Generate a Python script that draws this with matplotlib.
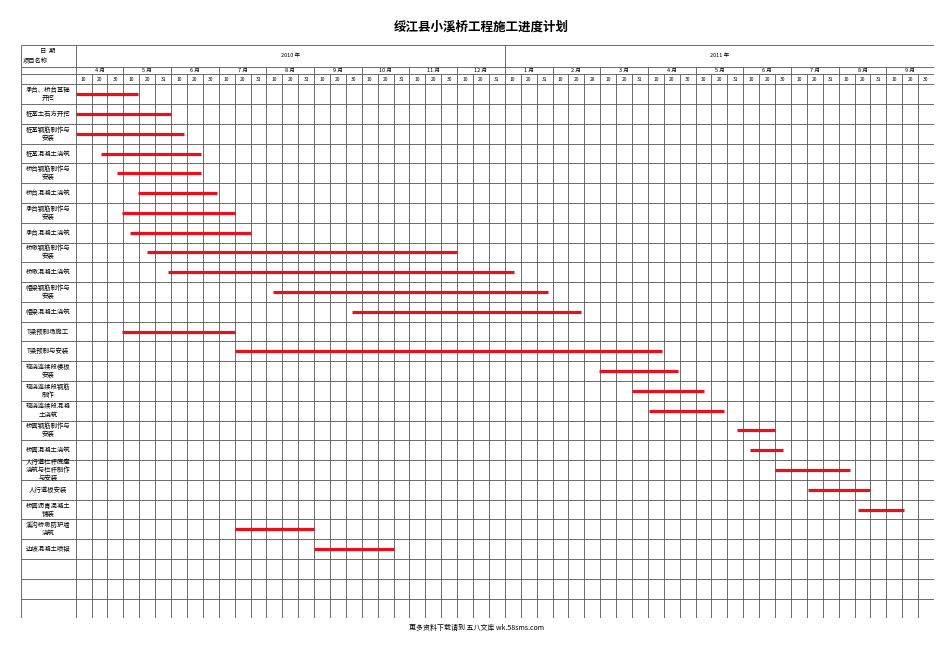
import matplotlib
matplotlib.use("Agg")
import matplotlib.pyplot as plt

plt.rcParams['font.family'] = ['Noto Sans CJK SC', 'DejaVu Sans']

# --- Data ---
title = "绥江县小溪桥工程施工进度计划"
footer = "更多资料下载请到 五八文库 wk.58sms.com"

years = ["2010 年", "2011 年"]
months = ["4 月", "5 月", "6 月", "7 月", "8 月", "9 月", "10 月", "11 月", "12 月",
          "1 月", "2 月", "3 月", "4 月", "5 月", "6 月", "7 月", "8 月", "9 月"]
month_ends = [30, 31, 30, 31, 31, 30, 31, 30, 31, 31, 28, 31, 30, 31, 30, 31, 31, 30]

tasks = [
    "承台、桥台基础\n开挖", "桩基土石方开挖", "桩基钢筋制作与\n安装", "桩基混凝土浇筑",
    "桥台钢筋制作与\n安装", "桥台混凝土浇筑", "承台钢筋制作与\n安装", "承台混凝土浇筑",
    "桥墩钢筋制作与\n安装", "桥墩混凝土浇筑", "帽梁钢筋制作与\n安装", "帽梁混凝土浇筑",
    "T梁预制场施工", "T梁预制与安装", "现浇连续段模板\n安装", "现浇连续段钢筋\n制作",
    "现浇连续段混凝\n土浇筑", "桥面钢筋制作与\n安装", "桥面混凝土浇筑",
    "人行道栏杆底座\n浇筑与栏杆制作\n与安装", "人行道板安装", "桥面沥青混凝土\n铺装",
    "溪沟桥墩防护墙\n浇筑", "边坡混凝土喷锚",
]
# start / end in ten-day periods counted from 1 April 2010
starts = [0.0, 0.0, 0.0, 1.6, 2.6, 3.9, 2.9, 3.4, 4.5, 5.8, 12.4, 17.4,
          2.9, 10.0, 32.9, 35.0, 36.1, 41.6, 42.4, 44.0, 46.1, 49.2, 10.0, 15.0]
ends = [3.9, 6.0, 6.8, 7.9, 7.9, 8.9, 10.0, 11.0, 24.0, 27.6, 29.7, 31.8,
        10.0, 36.9, 37.9, 39.5, 40.8, 44.0, 44.5, 48.7, 50.0, 52.1, 15.0, 20.0]
n_rows = 27  # 24 tasks + 3 empty rows

# --- Layout ---
W, H = 950, 672
fig = plt.figure(figsize=(W / 100, H / 100), dpi=100)
left_px, right_px, top_px, bot_px = 20.5, 934, 45, 618.3
ax = fig.add_axes([left_px / W, 1 - bot_px / H, (right_px - left_px) / W, (bot_px - top_px) / H])

n_cols = 3 * len(months)
label_w = 3.47
day_h, month_h, year_h = 0.52, 0.37, 1.1
y_day = -day_h
y_month = y_day - month_h
y_top = y_month - year_h
ax.set_xlim(-label_w, n_cols)
ax.set_ylim(n_rows, y_top)
ax.axis('off')

lc, lw = '#555555', 0.6

# horizontal lines
ax.hlines([y_top, y_month, y_day] + list(range(n_rows + 1)), -label_w, n_cols, color=lc, lw=lw)
# outer / label column
ax.vlines([-label_w, 0, n_cols], y_top, n_rows, color=lc, lw=lw)
# year divider
ax.vlines(len(months) * 3 / 2, y_top, y_month, color=lc, lw=lw)
# month dividers and dekad dividers
ax.vlines([3 * m for m in range(1, len(months))], y_month, n_rows, color=lc, lw=lw)
ax.vlines([c for c in range(1, n_cols) if c % 3], y_day, n_rows, color=lc, lw=lw)

# header text
ax.text(-label_w / 2, y_top + 0.12, "日  期", ha='center', va='top', fontsize=4.5)
ax.text(-label_w + 0.15, y_month - 0.08, "项目名称", ha='left', va='bottom', fontsize=4.5)
for i, yr in enumerate(years):
    ax.text(i * 27 + 13.5, (y_top + y_month) / 2, yr, ha='center', va='center', fontsize=4)
for m, (name, last) in enumerate(zip(months, month_ends)):
    ax.text(3 * m + 1.5, (y_month + y_day) / 2, name, ha='center', va='center', fontsize=4)
    for k, d in enumerate([10, 20, last]):
        ax.text(3 * m + k + 0.5, y_day / 2, str(d), ha='center', va='center', fontsize=3.5)

# task labels
for i, t in enumerate(tasks):
    ax.text(-label_w / 2, i + 0.5, t, ha='center', va='center', fontsize=4.6, linespacing=1.0)

# bars
for i, (s, e) in enumerate(zip(starts, ends)):
    ax.plot([s, e], [i + 0.5, i + 0.5], color='#e8101a', lw=2.3, solid_capstyle='butt')

fig.text(481 / W, 1 - 27 / H, title, ha='center', va='center', fontsize=9, fontweight='bold')
fig.text(477 / W, 1 - 628 / H, footer, ha='center', va='center', fontsize=5)

fig.savefig("out.png", dpi=100)
